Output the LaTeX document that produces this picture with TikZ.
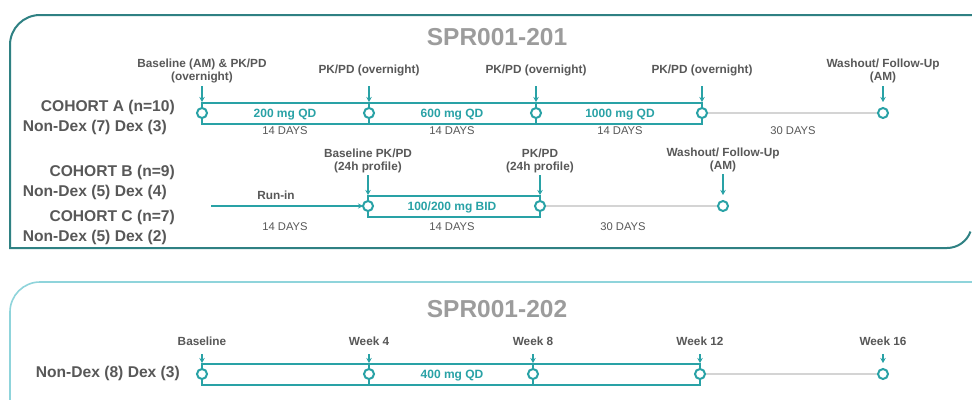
\documentclass[tikz,border=0pt]{standalone}
\usepackage{fontspec}
\setmainfont{Liberation Sans}
\usetikzlibrary{arrows.meta,positioning,calc,backgrounds}
\definecolor{boxdark}{HTML}{2F8183}
\definecolor{boxlight}{HTML}{8FD4DB}
\definecolor{barteal}{HTML}{29A2A6}
\definecolor{txtgray}{HTML}{585858}
\definecolor{titlegray}{HTML}{9C9C9C}
\definecolor{restgray}{HTML}{D4D4D4}
\tikzset{
  visit/.style={circle,draw=barteal,fill=white,line width=2pt,minimum size=10pt,inner sep=0pt,outer sep=0pt},
  doseline/.style={draw=barteal,line width=2.4pt},
  downarrow/.style={draw=barteal,line width=1.4pt,-{Stealth[length=5pt,width=5.5pt]},shorten >=6pt},
  restline/.style={draw=restgray,line width=2pt},
  lbl/.style={text=txtgray,font=\fontsize{11.8}{13}\selectfont\bfseries,align=center,inner sep=0pt},
  days/.style={text=txtgray,font=\fontsize{11.2}{13}\selectfont,inner sep=0pt},
  dose/.style={text=barteal,font=\fontsize{12}{14}\selectfont\bfseries,inner sep=0pt},
  cohort/.style={text=txtgray,font=\fontsize{15.6}{18}\selectfont\bfseries,anchor=east,inner sep=0pt},
  study/.style={text=titlegray,font=\fontsize{24.5}{28}\selectfont\bfseries,inner sep=0pt}
}
\begin{document}
\begin{tikzpicture}[x=1pt,y=-1pt]
    \clip (0,0) rectangle (972,399);

    % Study frames
    \begin{scope}[on background layer]
    \fill[white] (0,0) rectangle (972,399);
    \draw[boxdark,line width=2pt] (985,15) -- (40,15) arc[start angle=270,end angle=180,radius=30] -- (10,248) -- (947,248) arc[start angle=90,end angle=20,radius=25];
    \draw[boxlight,line width=1.6pt] (10,410) -- (10,312) arc[start angle=180,end angle=270,radius=30] -- (985,282);
    \end{scope}
    \node[study] (t201) at (497,37) {SPR001-201};
    \node[study] (t202) at (497,309) {SPR001-202};

    % Cohort A
    \node[cohort] (ca) at (175,107) {COHORT A (n=10)};
    \node[cohort] (cadex) at (167,127) {Non-Dex (7) Dex (3)};
    \node[visit] (a0) at (202,113) {};
    \node[visit] (a1) at (369,113) {};
    \node[visit] (a2) at (536,113) {};
    \node[visit] (a3) at (702,113) {};
    \node[visit] (a4) at (883,113) {};
    \begin{scope}[on background layer]
    \draw[doseline] ($(a0)+(0,-10)$) rectangle ($(a3)+(0,11)$);
    \draw[doseline] ($(a1)+(0,-10)$) -- ($(a1)+(0,11)$);
    \draw[doseline] ($(a2)+(0,-10)$) -- ($(a2)+(0,11)$);
    \draw[restline] (a3) -- (a4);
    \end{scope}
    \node[lbl] (la0) at (202,70.5) {Baseline (AM) \& PK/PD\\(overnight)};
    \node[lbl] (la1) at (369,70.5) {PK/PD (overnight)};
    \node[lbl] (la2) at (536,70.5) {PK/PD (overnight)};
    \node[lbl] (la3) at (702,70.5) {PK/PD (overnight)};
    \node[lbl] (la4) at (883,70.5) {Washout/ Follow-Up\\(AM)};
    \foreach \i in {0,...,4}
        \draw[downarrow] (la\i) ++(0,15.5) -- (a\i.north);
    \node[dose] (da1) at (285,115) {200 mg QD};
    \node[dose] (da2) at (452,115) {600 mg QD};
    \node[dose] (da3) at (620,115) {1000 mg QD};
    \node[days] (ya1) at (285,131) {14 DAYS};
    \node[days] (ya2) at (452,131) {14 DAYS};
    \node[days] (ya3) at (620,131) {14 DAYS};
    \node[days] (ya4) at (793,131) {30 DAYS};

    % Cohorts B and C
    \node[cohort] (cb) at (175,172) {COHORT B (n=9)};
    \node[cohort] (cbdex) at (167,192) {Non-Dex (5) Dex (4)};
    \node[cohort] (cc) at (175,217) {COHORT C (n=7)};
    \node[cohort] (ccdex) at (167,237) {Non-Dex (5) Dex (2)};
    \coordinate (runin) at (211,206);
    \node[visit] (b0) at (368,206) {};
    \node[visit] (b1) at (540,206) {};
    \node[visit] (b2) at (723,206) {};
    \begin{scope}[on background layer]
    \draw[doseline] ($(b0)+(0,-10)$) rectangle ($(b1)+(0,11)$);
    \draw[restline] (b1) -- (b2);
    \end{scope}
    \draw[barteal,line width=1.6pt,-{Stealth[length=5pt,width=5pt]}] (runin) -- (b0);
    \node[lbl] (rl) at (276,195) {Run-in};
    \node[lbl] (lb0) at (368,161) {Baseline PK/PD\\(24h profile)};
    \node[lbl] (lb1) at (540,161) {PK/PD\\(24h profile)};
    \node[lbl] (lb2) at (723,160) {Washout/ Follow-Up\\(AM)};
    \foreach \i in {0,1,2}
        \draw[downarrow] (lb\i) ++(0,14) -- (b\i.north);
    \node[dose] (db1) at (452,207) {100/200 mg BID};
    \node[days] (yb0) at (285,227) {14 DAYS};
    \node[days] (yb1) at (452,227) {14 DAYS};
    \node[days] (yb2) at (623,227) {30 DAYS};

    % SPR001-202
    \node[cohort] (cd) at (180,373) {Non-Dex (8) Dex (3)};
    \node[visit] (c0) at (202,374) {};
    \node[visit] (c1) at (369,374) {};
    \node[visit] (c2) at (533,374) {};
    \node[visit] (c3) at (700,374) {};
    \node[visit] (c4) at (883,374) {};
    \begin{scope}[on background layer]
    \draw[doseline] ($(c0)+(0,-10)$) rectangle ($(c3)+(0,11)$);
    \draw[doseline] ($(c1)+(0,-10)$) -- ($(c1)+(0,11)$);
    \draw[doseline] ($(c2)+(0,-10)$) -- ($(c2)+(0,11)$);
    \draw[restline] (c3) -- (c4);
    \end{scope}
    \node[lbl] (lc0) at (202,341) {Baseline};
    \node[lbl] (lc1) at (369,341) {Week 4};
    \node[lbl] (lc2) at (533,341) {Week 8};
    \node[lbl] (lc3) at (700,341) {Week 12};
    \node[lbl] (lc4) at (883,341) {Week 16};
    \foreach \i in {0,...,4}
        \draw[downarrow] (lc\i) ++(0,13) -- (c\i.north);
    \node[dose] (dc1) at (452,376) {400 mg QD};
\end{tikzpicture}
\end{document}
